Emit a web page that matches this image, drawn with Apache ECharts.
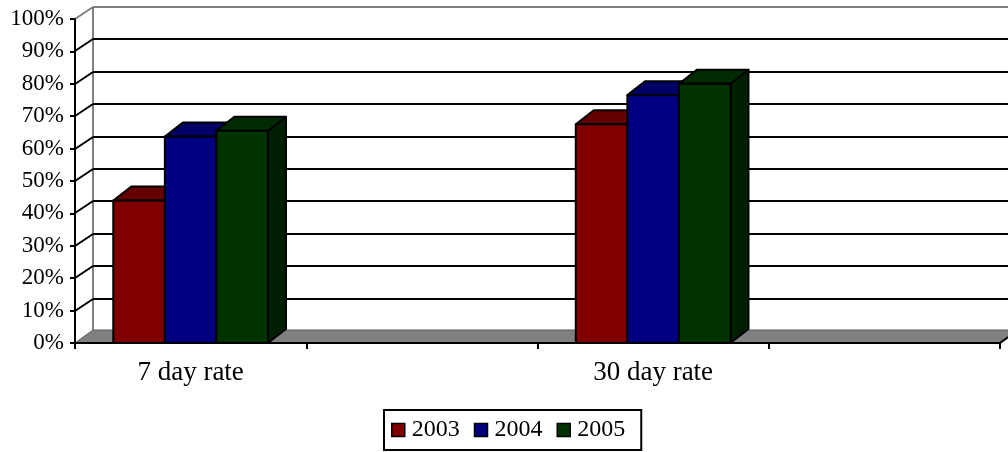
<!DOCTYPE html>
<html>
<head>
<meta charset="utf-8">
<script src="https://cdn.jsdelivr.net/npm/echarts@6/dist/echarts.min.js"></script>
<style>
  html, body { margin: 0; padding: 0; background: #fff; }
  #chart { width: 1008px; height: 452px; }
</style>
</head>
<body>
<div id="chart"></div>
<script>
// Categories along the floor (the 2nd and 4th slots are empty)
const categories = ['7 day rate', '', '30 day rate', ''];
const years = ['2003', '2004', '2005'];

// Rates per category, one array per year
const rate2003 = [0.44, null, 0.675, null];
const rate2004 = [0.637, null, 0.765, null];
const rate2005 = [0.655, null, 0.80, null];

// Value-axis ticks (0% .. 100%)
const yTicks = [0, 0.1, 0.2, 0.3, 0.4, 0.5, 0.6, 0.7, 0.8, 0.9, 1.0];

const FONT = '"Liberation Serif", "Times New Roman", serif';

// Depth of the pseudo-3D walls and columns (screen offsets)
const WALL_DX = 18, WALL_DY = -12;
const BAR_DX = 18, BAR_DY = -14;
const FLOOR_DY = -13;
const BAR_FRACTION = 0.223;

const palette = [
  { face: '#800000', top: '#640000', side: '#4a0000' },
  { face: '#000080', top: '#000066', side: '#00004a' },
  { face: '#003300', top: '#002a00', side: '#001e00' }
];

function toPairs(arr) {
  const out = [];
  arr.forEach((v, i) => { if (v !== null) out.push([i, v]); });
  return out;
}

function columnRenderer(idx) {
  const c = palette[idx];
  return function (params, api) {
    const cat = api.value(0), v = api.value(1);
    const base = api.coord([cat, 0]);
    const top = api.coord([cat, v]);
    const catW = api.size([1, 0])[0];
    const bw = catW * BAR_FRACTION;
    const x0 = base[0] + (idx - 1.5) * bw;
    const x1 = x0 + bw;
    const ty = top[1], by = base[1];
    const stroke = { stroke: '#000', lineWidth: 2, lineJoin: 'round' };
    return {
      type: 'group',
      children: [
        { type: 'polygon', shape: { points: [[x1, ty], [x1, by], [x1 + BAR_DX, by + BAR_DY], [x1 + BAR_DX, ty + BAR_DY]] },
          style: Object.assign({ fill: c.side }, stroke) },
        { type: 'polygon', shape: { points: [[x0, ty], [x1, ty], [x1 + BAR_DX, ty + BAR_DY], [x0 + BAR_DX, ty + BAR_DY]] },
          style: Object.assign({ fill: c.top }, stroke) },
        { type: 'rect', shape: { x: x0, y: ty, width: bw, height: by - ty },
          style: Object.assign({ fill: c.face }, stroke) }
      ]
    };
  };
}

// Back wall, side-wall edge, gridlines and the floor
function wallRenderer(params, api) {
  const v = api.value(1);
  const cs = params.coordSys;
  const left = cs.x, right = cs.x + cs.width;
  const y = Math.round(api.coord([0, v])[1]);
  const children = [];
  if (v === 0) {
    children.push({
      type: 'polygon',
      shape: { points: [[left, y], [right, y], [right + WALL_DX, y + FLOOR_DY], [left + WALL_DX, y + FLOOR_DY]] },
      style: { fill: '#808080', stroke: '#5a5a5a', lineWidth: 1 }
    });
    children.push({
      type: 'line',
      shape: { x1: right, y1: y, x2: right + WALL_DX, y2: y + FLOOR_DY },
      style: { stroke: '#000', lineWidth: 2 }
    });
    const yTop = Math.round(api.coord([0, 1])[1]);
    children.push({
      type: 'line',
      shape: { x1: left + WALL_DX, y1: y + FLOOR_DY, x2: left + WALL_DX, y2: yTop + WALL_DY },
      style: { stroke: '#808080', lineWidth: 2 }
    });
  } else {
    const col = v >= 1 ? '#808080' : '#000';
    children.push({
      type: 'line',
      shape: { x1: left, y1: y, x2: left + WALL_DX, y2: y + WALL_DY },
      style: { stroke: col, lineWidth: 2 }
    });
    children.push({
      type: 'line',
      shape: { x1: left + WALL_DX, y1: y + WALL_DY, x2: right + WALL_DX + 20, y2: y + WALL_DY },
      style: { stroke: col, lineWidth: 2 }
    });
  }
  return { type: 'group', children: children };
}

const seriesData = [rate2003, rate2004, rate2005];

const chart = echarts.init(document.getElementById('chart'), null, { renderer: 'canvas' });
chart.setOption({
  animation: false,
  backgroundColor: '#fff',
  grid: { left: 75, right: 8, top: 19, bottom: 109, containLabel: false },
  legend: {
    data: years,
    left: 384,
    top: 410,
    orient: 'horizontal',
    icon: 'rect',
    itemWidth: 13,
    itemHeight: 13,
    itemGap: 14,
    padding: [8, 16, 8, 7],
    borderColor: '#000',
    borderWidth: 2,
    borderRadius: 0,
    textStyle: { fontFamily: FONT, fontSize: 24, color: '#000', padding: [0, 0, 0, 2] },
    itemStyle: { borderColor: '#000', borderWidth: 1.5 }
  },
  xAxis: {
    type: 'category',
    data: categories,
    boundaryGap: true,
    z: 5,
    axisLine: { show: true, lineStyle: { color: '#000', width: 2 } },
    axisTick: { show: true, alignWithLabel: false, length: 6, lineStyle: { color: '#000', width: 2 } },
    axisLabel: { interval: 0, margin: 16, fontFamily: FONT, fontSize: 27, color: '#000' },
    splitLine: { show: false }
  },
  yAxis: {
    type: 'value',
    min: 0,
    max: 1,
    interval: 0.1,
    z: 5,
    axisLine: { show: true, lineStyle: { color: '#000', width: 2 } },
    axisTick: { show: true, inside: false, length: 5, lineStyle: { color: '#000', width: 2 } },
    axisLabel: {
      margin: 11,
      fontFamily: FONT,
      fontSize: 23,
      color: '#000',
      formatter: v => Math.round(v * 100) + '%'
    },
    splitLine: { show: false }
  },
  series: [
    {
      type: 'custom',
      name: 'walls',
      z: 1,
      silent: true,
      renderItem: wallRenderer,
      data: yTicks.map(v => [0, v])
    }
  ].concat(years.map((yr, i) => ({
    type: 'custom',
    name: yr,
    z: 2,
    itemStyle: { color: palette[i].face },
    renderItem: columnRenderer(i),
    data: toPairs(seriesData[i])
  })))
});
</script>
</body>
</html>
